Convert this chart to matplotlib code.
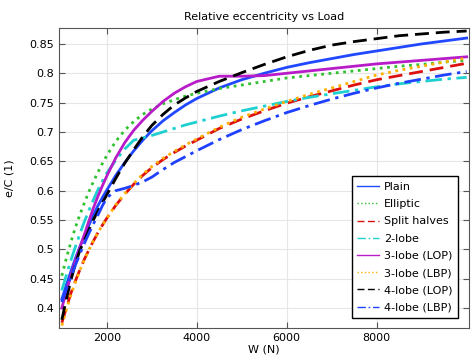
import numpy as np
import matplotlib
matplotlib.use('Agg')
import matplotlib.pyplot as plt

# load values (N)
W = [1000, 1100, 1200, 1300, 1400, 1500, 1600, 1700, 1800, 1900,
     2000, 2200, 2400, 2600, 2800, 3000, 3250, 3500, 3750, 4000,
     4500, 5000, 5500, 6000, 6500, 7000, 7500, 8000, 8500, 9000, 9500, 10000]

plain = [0.415, 0.439, 0.462, 0.484, 0.504, 0.523, 0.541, 0.558, 0.574, 0.588,
         0.601, 0.626, 0.648, 0.668, 0.686, 0.702, 0.719, 0.733, 0.746, 0.757,
         0.775, 0.789, 0.800, 0.810, 0.818, 0.825, 0.832, 0.838, 0.844, 0.850, 0.855, 0.860]
elliptic = [0.455, 0.485, 0.512, 0.537, 0.559, 0.579, 0.598, 0.615, 0.631, 0.646,
            0.660, 0.684, 0.703, 0.718, 0.730, 0.739, 0.748, 0.755, 0.761, 0.766,
            0.774, 0.780, 0.786, 0.792, 0.796, 0.800, 0.804, 0.808, 0.812, 0.815, 0.819, 0.822]
split_halves = [0.375, 0.400, 0.425, 0.446, 0.465, 0.483, 0.499, 0.514, 0.528, 0.541,
                0.553, 0.575, 0.594, 0.611, 0.626, 0.639, 0.653, 0.665, 0.676, 0.686,
                0.706, 0.722, 0.736, 0.749, 0.760, 0.770, 0.780, 0.789, 0.796, 0.803, 0.810, 0.817]
lobe2 = [0.430, 0.456, 0.481, 0.504, 0.526, 0.547, 0.566, 0.584, 0.601, 0.616,
         0.630, 0.652, 0.671, 0.686, 0.690, 0.694, 0.700, 0.706, 0.712, 0.717,
         0.727, 0.736, 0.744, 0.752, 0.759, 0.765, 0.771, 0.777, 0.782, 0.786, 0.790, 0.793]
lobe3_lop = [0.400, 0.428, 0.455, 0.480, 0.503, 0.525, 0.548, 0.570, 0.590, 0.608,
             0.625, 0.656, 0.682, 0.703, 0.720, 0.735, 0.752, 0.766, 0.777, 0.786,
             0.795, 0.795, 0.796, 0.800, 0.804, 0.808, 0.812, 0.816, 0.819, 0.822, 0.825, 0.828]
lobe3_lbp = [0.370, 0.397, 0.422, 0.444, 0.464, 0.482, 0.499, 0.514, 0.528, 0.541,
             0.553, 0.576, 0.595, 0.612, 0.628, 0.641, 0.655, 0.667, 0.678, 0.688,
             0.708, 0.725, 0.739, 0.752, 0.764, 0.775, 0.786, 0.797, 0.805, 0.812, 0.819, 0.826]
lobe4_lop = [0.380, 0.415, 0.447, 0.475, 0.498, 0.515, 0.533, 0.550, 0.565, 0.579,
             0.593, 0.621, 0.647, 0.670, 0.692, 0.711, 0.730, 0.746, 0.758, 0.769,
             0.786, 0.801, 0.815, 0.828, 0.839, 0.848, 0.854, 0.859, 0.864, 0.867, 0.870, 0.872]
lobe4_lbp = [0.410, 0.432, 0.453, 0.473, 0.492, 0.510, 0.527, 0.543, 0.558, 0.574,
             0.588, 0.600, 0.604, 0.609, 0.615, 0.623, 0.636, 0.648, 0.658, 0.668,
             0.687, 0.704, 0.719, 0.733, 0.745, 0.756, 0.766, 0.775, 0.783, 0.790, 0.797, 0.803]

series = [
    ('Plain', plain, '#2148ff', '-'),
    ('Elliptic', elliptic, '#2fc12f', ':'),
    ('Split halves', split_halves, '#dd1010', (0, (5, 2.5))),
    ('2-lobe', lobe2, '#1fd0d0', (0, (6, 2, 1.2, 2))),
    ('3-lobe (LOP)', lobe3_lop, '#b81bc8', '-'),
    ('3-lobe (LBP)', lobe3_lbp, '#ffb000', ':'),
    ('4-lobe (LOP)', lobe4_lop, 'black', (0, (5, 2.5))),
    ('4-lobe (LBP)', lobe4_lbp, '#2040ff', (0, (6, 2, 1.2, 2))),
]

plt.rcParams['font.size'] = 8
fig = plt.figure(figsize=(4.77, 3.6), dpi=100)
ax = fig.add_axes([0.124, 0.089, 0.859, 0.833])

for label, vals, color, ls in series:
    ax.plot(W, vals, color=color, linestyle=ls, linewidth=2, label=label)

ax.set_xlim(940, 10050)
ax.set_ylim(0.366, 0.877)
ax.set_xticks([2000, 4000, 6000, 8000])
ax.set_yticks([0.4, 0.45, 0.5, 0.55, 0.6, 0.65, 0.7, 0.75, 0.8, 0.85])
ax.set_yticklabels(['0.4', '0.45', '0.5', '0.55', '0.6', '0.65', '0.7', '0.75', '0.8', '0.85'])
ax.grid(True, color='#e6e6e6', linewidth=0.8)
ax.set_axisbelow(True)
ax.tick_params(direction='in', top=True, right=True, length=4, color='#555555')
for s in ax.spines.values():
    s.set_color('#555555')

ax.set_title('Relative eccentricity vs Load', fontsize=8)
ax.set_xlabel('W (N)', labelpad=1)
ax.set_ylabel('e/C (1)', labelpad=11)

leg = ax.legend(loc='lower right', fancybox=False, framealpha=1, edgecolor='black',
                handlelength=2.0, handletextpad=0.4, borderpad=0.5, labelspacing=0.65,
                borderaxespad=0, bbox_to_anchor=(0.973, 0.033))
for h in leg.get_lines():
    h.set_linewidth(1)

fig.savefig('out.png', dpi=100)
